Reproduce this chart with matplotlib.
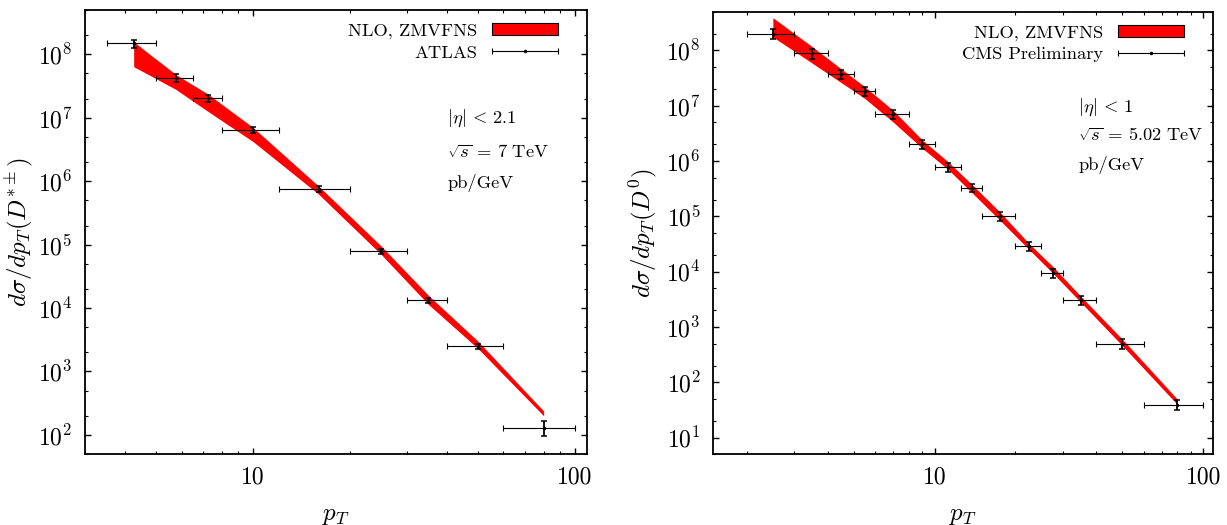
import numpy as np
import matplotlib
matplotlib.use("Agg")
import matplotlib.pyplot as plt
from matplotlib.patches import Patch
from matplotlib.legend_handler import HandlerErrorbar
from matplotlib.container import ErrorbarContainer
from matplotlib.ticker import FixedLocator, FuncFormatter, LogLocator, NullFormatter

plt.rcParams["font.family"] = "serif"
plt.rcParams["font.serif"] = ["cmr10"]
plt.rcParams["mathtext.fontset"] = "cm"
plt.rcParams["axes.formatter.use_mathtext"] = True
plt.rcParams["axes.unicode_minus"] = False

# ATLAS D*+- , sqrt(s) = 7 TeV
atlas_pt = [4.25, 5.75, 7.25, 10, 16, 25, 35, 50, 80]
atlas_lo = [3.5, 5, 6.5, 8, 12, 20, 30, 40, 60]
atlas_hi = [5, 6.5, 8, 12, 20, 30, 40, 60, 100]
atlas_xs = [1.49e8, 4.3e7, 2.03e7, 6.45e6, 7.6e5, 7.9e4, 1.32e4, 2.5e3, 130]
atlas_err = [2.1e7, 6e6, 2.6e6, 7.5e5, 8e4, 7e3, 1.1e3, 2.2e2, 35]
atlas_nlo_up = [1.58e8, 4.8e7, 2.35e7, 7.0e6, 8.3e5, 9.5e4, 1.6e4, 3.0e3, 238]
atlas_nlo_dn = [6.4e7, 2.8e7, 1.25e7, 4.2e6, 6.2e5, 7.0e4, 1.15e4, 2.3e3, 200]

# CMS Preliminary D0, sqrt(s) = 5.02 TeV
cms_pt = [2.5, 3.5, 4.5, 5.5, 7, 9, 11.25, 13.75, 17.5, 22.5, 27.5, 35, 50, 80]
cms_lo = [2, 3, 4, 5, 6, 8, 10, 12.5, 15, 20, 25, 30, 40, 60]
cms_hi = [3, 4, 5, 6, 8, 10, 12.5, 15, 20, 25, 30, 40, 60, 100]
cms_xs = [2.0e8, 8.9e7, 3.7e7, 1.85e7, 7.1e6, 2.05e6, 7.8e5, 3.3e5, 1.0e5,
          2.9e4, 9.3e3, 3.1e3, 500, 39.5]
cms_err = [4e7, 1.8e7, 7e6, 3.5e6, 1.3e6, 3.8e5, 1.4e5, 6e4, 1.9e4,
           5.5e3, 1.7e3, 5.8e2, 95, 8]
cms_nlo_up = [3.9e8, 1.17e8, 4.6e7, 2.2e7, 8.3e6, 2.4e6, 9.6e5, 3.8e5, 1.2e5,
              3.2e4, 1.25e4, 3.6e3, 600, 50]
cms_nlo_dn = [1.75e8, 5.9e7, 2.6e7, 1.35e7, 5.1e6, 1.7e6, 7.0e5, 2.7e5, 8.5e4,
              2.5e4, 9.5e3, 2.8e3, 460, 40]


def draw_panel(ax, pt, lo, hi, xs, err, up, dn, data_label, ylabel, notes, ylim):
    pt = np.asarray(pt)
    ax.fill_between(pt, dn, up, color="red", lw=0, zorder=1)
    ex = ax.errorbar(pt, xs, xerr=[pt - np.asarray(lo), np.asarray(hi) - pt],
                     fmt=".", ms=3, color="black", elinewidth=0.8, capsize=2.5,
                     capthick=0.8, zorder=3)
    ax.errorbar(pt, xs, yerr=err, fmt="none", ecolor="black", elinewidth=1.3,
                capsize=2.5, capthick=1.1, zorder=3)

    ax.set_xscale("log")
    ax.set_yscale("log")
    ax.set_xlim(1.5 if pt[0] < 3 else 3, 109)
    ax.set_ylim(*ylim)

    ax.xaxis.set_major_locator(FixedLocator([10, 100]))
    ax.xaxis.set_major_formatter(FuncFormatter(lambda v, p: f"{v:g}"))
    ax.xaxis.set_minor_locator(LogLocator(base=10, subs=np.arange(2, 10)))
    ax.xaxis.set_minor_formatter(NullFormatter())
    ax.yaxis.set_major_locator(LogLocator(base=10, numticks=20))
    ax.yaxis.set_minor_locator(LogLocator(base=10, subs=(2, 5), numticks=20))
    ax.yaxis.set_minor_formatter(NullFormatter())

    ax.tick_params(which="both", direction="in", top=True, right=True,
                   labelsize=17, pad=9)
    ax.tick_params(which="major", length=4.2, width=1.0)
    ax.tick_params(which="minor", length=2.4, width=0.8,
                   labelbottom=False, labelleft=False)
    for s in ax.spines.values():
        s.set_linewidth(1.3)

    ax.set_xlabel(r"$p_T$", fontsize=18)
    ax.set_ylabel(ylabel, fontsize=18)
    ax.xaxis.set_label_coords(0.5, -0.115)

    band = Patch(facecolor="red", edgecolor="black", linewidth=0.8)
    ax.legend([band, ex], ["NLO, ZMVFNS", data_label], loc="upper right",
              bbox_to_anchor=(0.975, 1.008), frameon=False, markerfirst=False,
              fontsize=13.3, handlelength=3.57, handleheight=0.65,
              handletextpad=0.8, labelspacing=0.32,
              handler_map={ErrorbarContainer: HandlerErrorbar(xerr_size=1.78)})

    for (tx, ty), s in zip(notes[0], notes[1]):
        ax.text(tx, ty, s, transform=ax.transAxes, fontsize=13.3,
                ha="left", va="center")


fig = plt.figure(figsize=(12.27, 5.25), dpi=100)
ax1 = fig.add_axes([0.0693, 0.1352, 0.409, 0.8457])
ax2 = fig.add_axes([0.5813, 0.1347, 0.4075, 0.843])

draw_panel(ax1, atlas_pt, atlas_lo, atlas_hi, atlas_xs, atlas_err,
           atlas_nlo_up, atlas_nlo_dn, "ATLAS", r"$d\sigma/dp_T(D^{*\pm})$",
           ([(0.722, 0.757), (0.722, 0.680), (0.722, 0.610)],
            [r"$|\eta|\,<\,2.1$", r"$\sqrt{s}\,=\,7\ \mathrm{TeV}$", "pb/GeV"]),
           (50, 5e8))
ax1.yaxis.set_label_coords(-0.10, 0.5)

draw_panel(ax2, cms_pt, cms_lo, cms_hi, cms_xs, cms_err,
           cms_nlo_up, cms_nlo_dn, "CMS Preliminary", r"$d\sigma/dp_T(D^0)$",
           ([(0.730, 0.785), (0.730, 0.721), (0.730, 0.654)],
            [r"$|\eta|\,<\,1$", r"$\sqrt{s}\,=\,5.02\ \mathrm{TeV}$", "pb/GeV"]),
           (5, 5e8))
ax2.yaxis.set_label_coords(-0.108, 0.5)

fig.savefig("out.png", dpi=100)
